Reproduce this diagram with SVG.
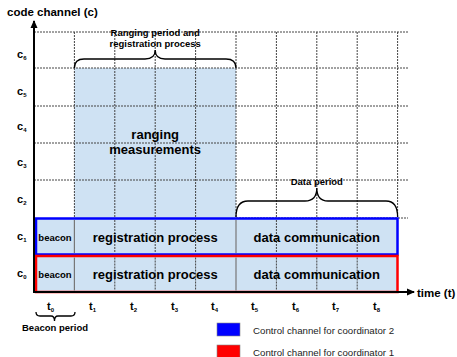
<svg xmlns="http://www.w3.org/2000/svg" width="457" height="357" viewBox="0 0 457 357">
  <style>
    text { font-family: "Liberation Sans", Arial, sans-serif; font-weight: bold; fill: #000; }
    .grid { stroke: #444; stroke-width: 1; stroke-dasharray: 2 1; fill: none; }
    .sep { stroke: #777; stroke-width: 1.2; }
    .brace { stroke: #000; stroke-width: 1.3; fill: none; }
    .axis { stroke: #000; stroke-width: 2; fill: none; }
    .lbl { font-size: 11px; }
    .sub { font-size: 6px; }
    .big { font-size: 13px; text-anchor: middle; }
    .small { font-size: 9.5px; text-anchor: middle; }
    .legend { font-family: "Liberation Sans", Arial, sans-serif; font-weight: normal; font-size: 9.7px; fill: #222; }
  </style>
  <defs>
    <marker id="arrow" markerWidth="8" markerHeight="8" refX="7" refY="4" orient="auto" markerUnits="userSpaceOnUse">
      <path d="M0,0.5 L8,4 L0,7.5 z" fill="#000"/>
    </marker>
  </defs>

  <rect width="457" height="357" fill="#fff"/>

  <!-- ranging area -->
  <rect id="ranging-area" x="74.4" y="68" width="161.6" height="150" fill="#cfe2f3"/>

  <!-- grid -->
  <g id="grid">
    <path class="grid" d="M34,32 H408 M34,68 H408 M34,106 H408 M34,143 H408 M34,180 H408 M236,218 H408"/>
    <path class="grid" d="M74.4,32 V218 M114.8,32 V292 M155.2,32 V292 M195.6,32 V292 M236,32 V218 M276.4,32 V292 M316.8,32 V292 M357.2,32 V292 M397.6,32 V218"/>
  </g>

  <!-- control channel rows -->
  <g id="row-c1">
    <rect x="36" y="218.5" width="361.5" height="36" fill="#cfe2f3" stroke="#0000ff" stroke-width="2.5"/>
    <line class="sep" x1="74.4" y1="220" x2="74.4" y2="253"/>
    <line class="sep" x1="236" y1="220" x2="236" y2="253"/>
    <path class="grid" d="M114.8,220 V253 M155.2,220 V253 M195.6,220 V253 M276.4,220 V253 M316.8,220 V253 M357.2,220 V253"/>
    <text class="small" x="55" y="240.5">beacon</text>
    <text class="big" x="155.2" y="241.5">registration process</text>
    <text class="big" x="316.8" y="241.5">data communication</text>
  </g>
  <g id="row-c0">
    <rect x="36" y="256" width="361.5" height="36" fill="#cfe2f3" stroke="#ff0000" stroke-width="2.5"/>
    <line class="sep" x1="74.4" y1="257.5" x2="74.4" y2="290.5"/>
    <line class="sep" x1="236" y1="257.5" x2="236" y2="290.5"/>
    <path class="grid" d="M114.8,257.5 V290.5 M155.2,257.5 V290.5 M195.6,257.5 V290.5 M276.4,257.5 V290.5 M316.8,257.5 V290.5 M357.2,257.5 V290.5"/>
    <text class="small" x="55" y="278">beacon</text>
    <text class="big" x="155.2" y="279">registration process</text>
    <text class="big" x="316.8" y="279">data communication</text>
  </g>

  <!-- axes -->
  <g id="axes">
    <line class="axis" x1="34" y1="293" x2="34" y2="21" marker-end="url(#arrow)"/>
    <line class="axis" x1="33" y1="292" x2="414" y2="292" marker-end="url(#arrow)"/>
    <text x="7" y="16" font-size="11.5">code channel (c)</text>
    <text x="417" y="296.5" font-size="11.5">time (t)</text>
  </g>

  <!-- channel labels -->
  <g id="channel-labels" class="lbl">
    <text x="17" y="58">c<tspan class="sub" dy="2">6</tspan></text>
    <text x="17" y="95">c<tspan class="sub" dy="2">5</tspan></text>
    <text x="17" y="130">c<tspan class="sub" dy="2">4</tspan></text>
    <text x="17" y="166">c<tspan class="sub" dy="2">3</tspan></text>
    <text x="17" y="203">c<tspan class="sub" dy="2">2</tspan></text>
    <text x="17" y="240">c<tspan class="sub" dy="2">1</tspan></text>
    <text x="17" y="277">c<tspan class="sub" dy="2">0</tspan></text>
  </g>

  <!-- time labels -->
  <g id="time-labels" class="lbl">
    <text x="47" y="310">t<tspan class="sub" dy="2">0</tspan></text>
    <text x="89" y="310">t<tspan class="sub" dy="2">1</tspan></text>
    <text x="130" y="310">t<tspan class="sub" dy="2">2</tspan></text>
    <text x="171" y="310">t<tspan class="sub" dy="2">3</tspan></text>
    <text x="211" y="310">t<tspan class="sub" dy="2">4</tspan></text>
    <text x="251" y="310">t<tspan class="sub" dy="2">5</tspan></text>
    <text x="292" y="310">t<tspan class="sub" dy="2">6</tspan></text>
    <text x="332" y="310">t<tspan class="sub" dy="2">7</tspan></text>
    <text x="373" y="310">t<tspan class="sub" dy="2">8</tspan></text>
  </g>

  <!-- ranging text -->
  <g id="ranging-label">
    <text class="big" x="155.2" y="139">ranging</text>
    <text class="big" x="155.2" y="153.5">measurements</text>
  </g>

  <!-- braces -->
  <g id="braces">
    <path class="brace" d="M74.4,68 Q74.4,59 84,59 H145 Q155.2,59 155.2,50 Q155.2,59 165,59 H226 Q236,59 236,68"/>
    <text x="155.2" y="36" font-size="9.5" text-anchor="middle">Ranging period and</text>
    <text x="155.2" y="47" font-size="9.5" text-anchor="middle">registration process</text>

    <path class="brace" d="M236,217 Q236,201 248,201 H305 Q316.8,201 316.8,188 Q316.8,201 328,201 H386 Q397.6,201 397.6,217"/>
    <text x="316.8" y="185" font-size="9.5" text-anchor="middle">Data period</text>

    <path class="brace" d="M36,312 Q36,316 40,316 H51 Q54.5,316 54.5,321 Q54.5,316 58,316 H71 Q75,316 75,312"/>
    <text x="55" y="331" font-size="9.5" text-anchor="middle">Beacon period</text>
  </g>

  <!-- legend -->
  <g id="legend">
    <rect x="217" y="323" width="23" height="13" fill="#0000ff" stroke="#888" stroke-width="0.6"/>
    <text class="legend" x="253" y="333.5">Control channel for coordinator 2</text>
    <rect x="217" y="345" width="23" height="13" fill="#ff0000" stroke="#888" stroke-width="0.6"/>
    <text class="legend" x="253" y="356">Control channel for coordinator 1</text>
  </g>
</svg>
